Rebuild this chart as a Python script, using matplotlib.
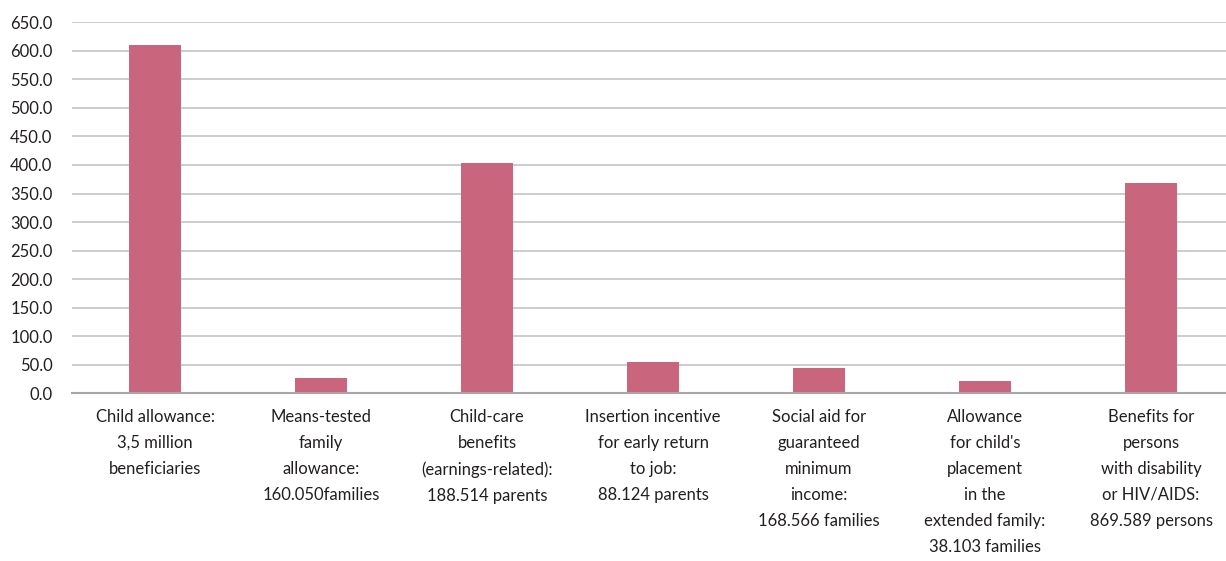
import matplotlib
matplotlib.use("Agg")
import matplotlib.pyplot as plt

categories = [
    "Child allowance:\n3,5 million\nbeneficiaries",
    "Means-tested\nfamily\nallowance:\n160.050families",
    "Child-care\nbenefits\n(earnings-related):\n188.514 parents",
    "Insertion incentive\nfor early return\nto job:\n88.124 parents",
    "Social aid for\nguaranteed\nminimum\nincome:\n168.566 families",
    "Allowance\nfor child's\nplacement\nin the\nextended family:\n38.103 families",
    "Benefits for\npersons\nwith disability\nor HIV/AIDS:\n869.589 persons",
]
values = [611, 27, 403, 55, 44, 22, 368]
yticks = [0, 50, 100, 150, 200, 250, 300, 350, 400, 450, 500, 550, 600, 650]

plt.rcParams['font.family'] = ['Lato', 'DejaVu Sans']
txt = "#231F20"

fig = plt.figure(figsize=(12.26, 5.61), dpi=100)
ax = fig.add_axes([72/1226, (561-393.3)/561, 1162/1226, 371/561])

x = list(range(len(values)))
ax.bar(x, values, width=0.313, color="#C9667E", zorder=3)

ax.set_xlim(-0.5, len(values) - 0.5)
ax.set_ylim(0, 650)
ax.set_yticks(yticks)
ax.set_yticklabels([f"{v:.1f}" for v in yticks], fontsize=12, color=txt)
ax.set_xticks(x)
ax.set_xticklabels(categories, fontsize=12, color=txt, linespacing=1.78, va="top")
ax.tick_params(axis="both", length=0)
ax.tick_params(axis="y", pad=14)
ax.tick_params(axis="x", pad=11)

ax.grid(axis="y", color="#C8C8C8", linewidth=1.3, zorder=0)
for s in ["top", "right", "left"]:
    ax.spines[s].set_visible(False)
ax.spines["bottom"].set_color("#A6A6A6")
ax.spines["bottom"].set_linewidth(1.5)
ax.spines["bottom"].set_zorder(4)

fig.savefig("out.png", dpi=100)
